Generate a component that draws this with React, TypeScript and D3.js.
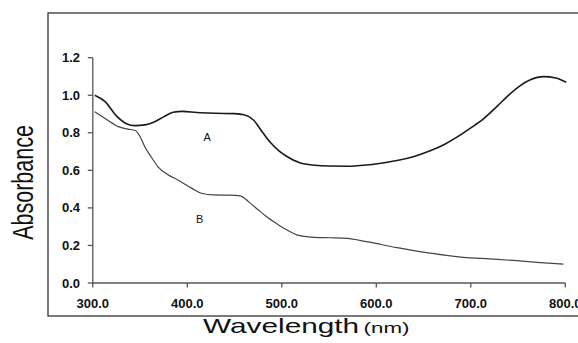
import * as d3 from 'd3'

// wavelength (nm) / absorbance
const waveA = [302, 313, 325, 335, 345, 355, 365, 375, 385, 395, 410, 430, 450, 460, 470, 480, 488, 497, 505, 519, 535, 550, 572, 586, 605, 622, 640, 657, 672, 687, 700, 713, 728, 741, 752, 763, 777, 790, 801]
const absA = [1.0, 0.966, 0.89, 0.85, 0.838, 0.842, 0.858, 0.885, 0.909, 0.914, 0.908, 0.904, 0.902, 0.896, 0.868, 0.8, 0.748, 0.704, 0.675, 0.64, 0.627, 0.623, 0.622, 0.627, 0.638, 0.652, 0.674, 0.704, 0.738, 0.782, 0.826, 0.873, 0.942, 1.005, 1.05, 1.082, 1.099, 1.092, 1.069]
const waveB = [302, 315, 327, 337, 345, 350, 355, 362, 369, 380, 390, 405, 415, 428, 445, 456, 466, 475, 484, 495, 505, 519, 535, 551, 569, 590, 622, 655, 692, 720, 745, 770, 798]
const absB = [0.912, 0.87, 0.833, 0.82, 0.812, 0.78, 0.726, 0.67, 0.619, 0.575, 0.549, 0.504, 0.478, 0.469, 0.468, 0.464, 0.428, 0.39, 0.353, 0.315, 0.284, 0.252, 0.243, 0.241, 0.238, 0.22, 0.188, 0.16, 0.137, 0.128, 0.12, 0.11, 0.101]
const xTicks = [300, 400, 500, 600, 700, 800]
const yTicks = [0, 0.2, 0.4, 0.6, 0.8, 1.0, 1.2]
const labels = [{ name: 'A', w: 421, v: 0.776 }, { name: 'B', w: 413, v: 0.34 }]

const W = 578, H = 343

const App = () => {
  const x = d3.scaleLinear().domain([300, 800]).range([92.8, 565.3])
  const y = d3.scaleLinear().domain([0, 1.2]).range([283, 57.7])
  const line = d3.line<[number, number]>()
    .x(d => x(d[0]))
    .y(d => y(d[1]))
    .curve(d3.curveMonotoneX)
  const ptsA = waveA.map((w, i) => [w, absA[i]] as [number, number])
  const ptsB = waveB.map((w, i) => [w, absB[i]] as [number, number])
  const font = 'Arial, "Liberation Sans", sans-serif'

  return (
    <svg width={W} height={H} style={{ position: 'absolute', left: 0, top: 0, background: '#fff' }} fontFamily={font}>
      <rect x={48} y={13} width={600} height={303} fill="none" stroke="#333" strokeWidth={1.3} />
      {/* axes */}
      <line x1={x(300)} x2={x(300)} y1={y(1.2)} y2={y(0)} stroke="#555" strokeWidth={1.3} />
      <line x1={x(300)} x2={x(800)} y1={y(0)} y2={y(0)} stroke="#555" strokeWidth={1.3} />
      {yTicks.map(t => (
        <g key={t}>
          <line x1={x(300) - 5} x2={x(300)} y1={y(t)} y2={y(t)} stroke="#555" strokeWidth={1.3} />
          <text x={80} y={y(t)} dy="0.35em" textAnchor="end" fontSize={13} fontWeight="bold" fill="#111">{t.toFixed(1)}</text>
        </g>
      ))}
      {xTicks.map(t => (
        <g key={t}>
          <line x1={x(t)} x2={x(t)} y1={y(0)} y2={y(0) + 4.5} stroke="#555" strokeWidth={1.3} />
          <text x={x(t)} y={308} textAnchor="middle" fontSize={13} fontWeight="bold" fill="#111">{t.toFixed(1)}</text>
        </g>
      ))}
      <path d={line(ptsB) ?? ''} fill="none" stroke="#444" strokeWidth={1.2} />
      <path d={line(ptsA) ?? ''} fill="none" stroke="#1a1a1a" strokeWidth={1.6} />
      {labels.map(l => (
        <text key={l.name} x={x(l.w)} y={y(l.v)} dy="0.35em" textAnchor="middle" fontSize={11} fill="#111">{l.name}</text>
      ))}
      {/* axis titles are stretched sideways in the source */}
      <g transform="translate(33,182.5) scale(1.37,1) rotate(-90)">
        <text textAnchor="middle" fontSize={21.5} fill="#111">Absorbance</text>
      </g>
      <g transform="translate(203,333) scale(1.49,1)">
        <text fontSize={20} fill="#111">Wavelength<tspan fontSize={15} dx={3}>(nm)</tspan></text>
      </g>
    </svg>
  )
}

export default App
